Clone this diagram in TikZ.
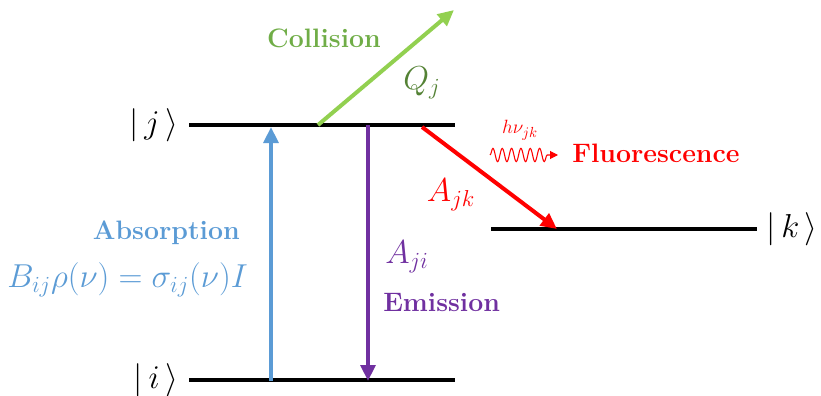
\documentclass[tikz,border=0pt]{standalone}
\usetikzlibrary{positioning,arrows.meta,decorations.pathmorphing}
\definecolor{absblue}{HTML}{5B9BD5}
\definecolor{empurple}{HTML}{7030A0}
\definecolor{colgreen}{HTML}{92D050}
\definecolor{coltext}{HTML}{70AD47}
\definecolor{qgreen}{HTML}{548235}

\begin{document}
\begin{tikzpicture}[x=0.75pt, y=-0.75pt,
  level/.style={line width=3pt},
  trans/.style={-{Triangle[length=12pt,width=11pt]}, line width=3pt},
  word/.style={font=\fontsize{20}{22}\selectfont\bfseries, inner sep=0pt},
  sym/.style={font=\fontsize{24}{26}\selectfont, inner sep=0pt}]
  \useasboundingbox (0,0) rectangle (821,396);

  % energy levels
  \coordinate (jL) at (189,125); \coordinate (jR) at (455,125);
  \coordinate (iL) at (189,380); \coordinate (iR) at (455,380);
  \coordinate (kL) at (491,229); \coordinate (kR) at (757,229);
  \draw[level] (jL) -- (jR);
  \draw[level] (iL) -- (iR);
  \draw[level] (kL) -- (kR);
  \node[sym, left=8pt of jL] (ketj) {$|\,j\,\rangle$};
  \node[sym, left=8pt of iL] (keti) {$|\,i\,\rangle$};
  \node[sym, right=7pt of kR] (ketk) {$|\,k\,\rangle$};

  % absorption
  \coordinate (absS) at (271,381); \coordinate (absE) at (271,127);
  \draw[trans, absblue] (absS) -- (absE);
  \node[word, text=absblue, anchor=east] (abslab) at (240,233) {Absorption};
  \node[sym, text=absblue, anchor=east] (bform) at (248,280)
        {$B_{ij}\rho(\nu)=\sigma_{ij}(\nu)I$};

  % emission
  \coordinate (emS) at (368,125); \coordinate (emE) at (368,381);
  \draw[trans, empurple] (emS) -- (emE);
  \node[sym, text=empurple, anchor=west] (aji) at (385,257) {$A_{ji}$};
  \node[word, text=empurple, anchor=west] (emlab) at (383,302) {Emission};

  % collision
  \coordinate (colS) at (318,125); \coordinate (colE) at (454,10);
  \draw[trans, colgreen] (colS) -- (colE);
  \node[word, text=coltext] (collab) at (324,38) {Collision};
  \node[sym, text=qgreen] (qlab) at (422,83) {$Q_j$};

  % fluorescence
  \coordinate (fluS) at (422,127); \coordinate (fluE) at (557,229);
  \draw[trans, red] (fluS) -- (fluE);
  \node[sym, text=red] (ajk) at (451,195) {$A_{jk}$};
  \coordinate (wavS) at (490,155); \coordinate (wavE) at (558,155);
  \draw[red, line width=0.8pt, -{Triangle[length=6pt,width=6pt]},
        decorate, decoration={snake, amplitude=5pt, segment length=7pt, post length=6pt}]
        (wavS) -- (wavE);
  \node[font=\fontsize{15}{17}\selectfont, text=red, inner sep=0pt] (hnu) at (520,130) {$h\nu_{jk}$};
  \node[word, text=red, anchor=west] (flulab) at (572,153) {Fluorescence};
\end{tikzpicture}
\end{document}
